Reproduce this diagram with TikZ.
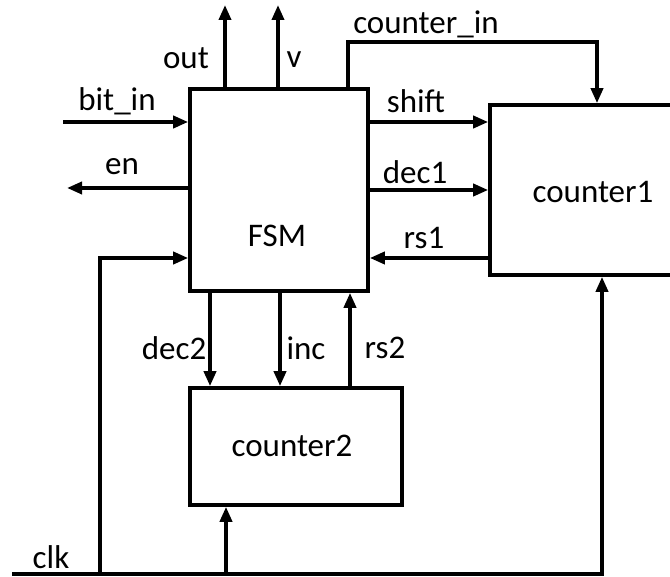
\documentclass[tikz,border=0pt]{standalone}
\usepackage{fontspec}
\setmainfont{Carlito}
\usetikzlibrary{arrows.meta}
\begin{document}
\begin{tikzpicture}[x=1pt,y=-1pt, line width=3.6pt,
  sig/.style={-{Triangle[length=15pt,width=12pt]}},
  blk/.style={draw, line width=3.6pt, inner sep=0pt},
  lbl/.style={font=\fontsize{33}{40}\selectfont, inner sep=0pt}]
\useasboundingbox (0,0) rectangle (670,577);
\clip (0,0) rectangle (670,577);
% blocks
\node[blk, minimum width=178pt, minimum height=202pt] (fsm) at (279,190) {};
\node[blk, minimum width=220pt, minimum height=170pt] (c1) at (600,190) {};
\node[blk, minimum width=212pt, minimum height=117pt] (c2) at (296,446.5) {};
\node[lbl] (fsmlbl) at (277,236) {FSM};
\node[lbl] (c1lbl) at (593,192) {counter1};
\node[lbl] (c2lbl) at (292,446) {counter2};
% free ends
\coordinate (outtop) at (225,5);
\coordinate (vtop) at (278,5);
\coordinate (bitstart) at (63,122);
\coordinate (enend) at (67,188);
\coordinate (clkstart) at (12,574);
% top outputs
\draw[sig] (225,0 |- fsm.north) -- (outtop);
\draw[sig] (278,0 |- fsm.north) -- (vtop);
\draw[sig] (348,0 |- fsm.north) -- (348,42) -- (597,42) -- (597,0 |- c1.north);
% left side
\draw[sig] (bitstart) -- (bitstart -| fsm.west);
\draw[sig] (enend -| fsm.west) -- (enend);
% fsm <-> counter1
\draw[sig] (0,122 -| fsm.east) -- (0,122 -| c1.west);
\draw[sig] (0,190 -| fsm.east) -- (0,190 -| c1.west);
\draw[sig] (0,258 -| c1.west) -- (0,258 -| fsm.east);
% fsm <-> counter2
\draw[sig] (210,0 |- fsm.south) -- (210,0 |- c2.north);
\draw[sig] (280,0 |- fsm.south) -- (280,0 |- c2.north);
\draw[sig] (350,0 |- c2.north) -- (350,0 |- fsm.south);
% clock
\draw[sig] (clkstart) -- (602,574) -- (602,0 |- c1.south);
\draw[sig] (100,574) -- (100,258) -- (0,258 -| fsm.west);
\draw[sig] (226,574) -- (226,0 |- c2.south);
% labels
\node[lbl] (l-out) at (186,58) {out};
\node[lbl] (l-v) at (294,60) {v};
\node[lbl] (l-cin) at (426,24) {counter\_in};
\node[lbl] (l-bit) at (117,101) {bit\_in};
\node[lbl] (l-en) at (122,167) {en};
\node[lbl] (l-shift) at (416,101) {shift};
\node[lbl] (l-dec1) at (415,172) {dec1};
\node[lbl] (l-rs1) at (424,238) {rs1};
\node[lbl] (l-dec2) at (174,348) {dec2};
\node[lbl] (l-inc) at (306,348) {inc};
\node[lbl] (l-rs2) at (385,348) {rs2};
\node[lbl] (l-clk) at (51,557) {clk};
\end{tikzpicture}
\end{document}
